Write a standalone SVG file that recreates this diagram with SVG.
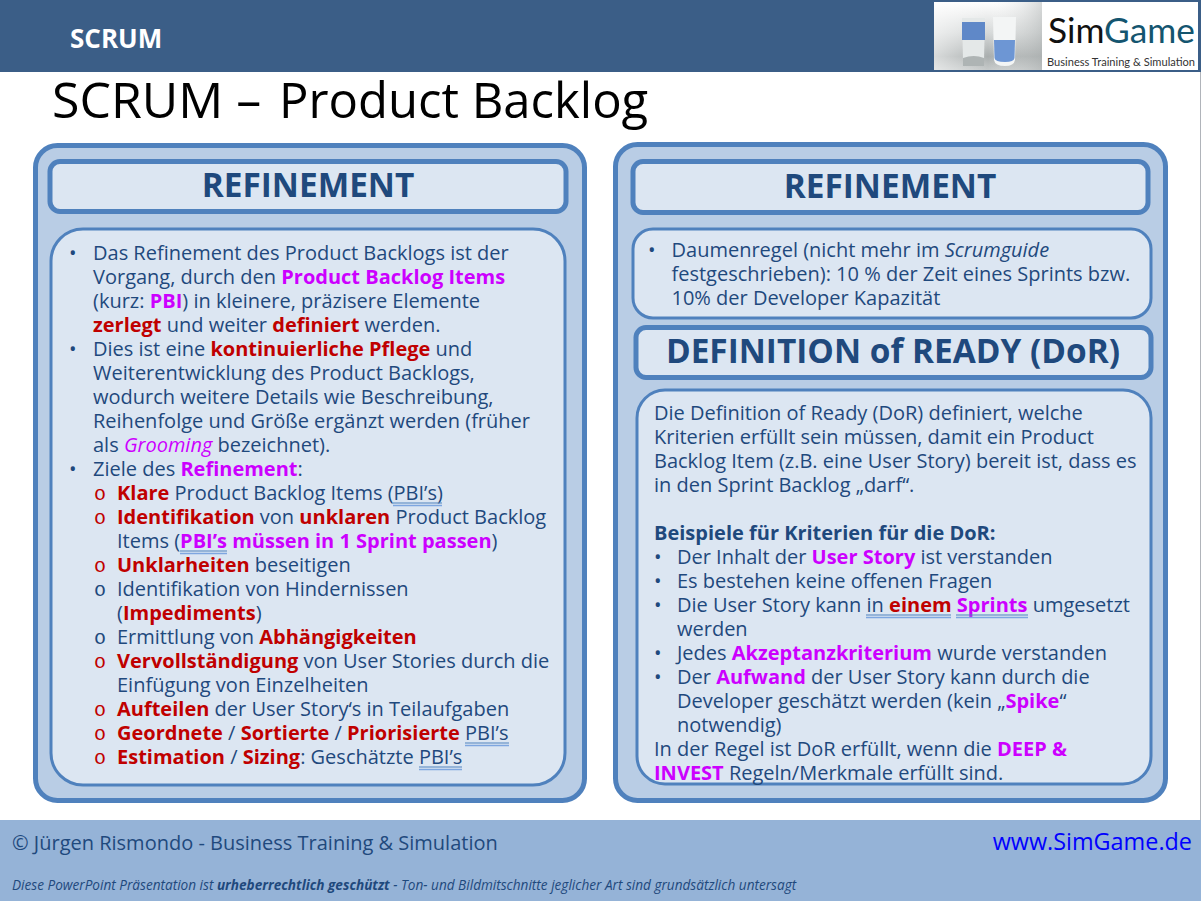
<svg xmlns="http://www.w3.org/2000/svg" width="1201" height="901" viewBox="0 0 1201 901">
<defs>
<linearGradient id="g1" x1="0" y1="0" x2="0" y2="1"><stop offset="0" stop-color="#ffffff"/><stop offset="0.45" stop-color="#d6d9d9"/><stop offset="0.8" stop-color="#a9aeae"/><stop offset="1" stop-color="#c6caca"/></linearGradient>
<linearGradient id="g2" x1="0" y1="0" x2="1" y2="0"><stop offset="0" stop-color="#ffffff" stop-opacity="0.55"/><stop offset="0.5" stop-color="#ffffff" stop-opacity="0"/><stop offset="1" stop-color="#b0b4b4" stop-opacity="0.5"/></linearGradient>
<filter id="soft" x="-10%" y="-10%" width="120%" height="120%"><feGaussianBlur stdDeviation="0.7"/></filter>
</defs>
<style>
text{font-family:"Open Sans","DejaVu Sans",sans-serif;fill:#1f497d;font-size:20px}
.outer{fill:#b9cde5;stroke:#4f81bd;stroke-width:5}
.inner{fill:#dce6f2;stroke:#4f81bd;stroke-width:3}
.head{fill:#dce6f2;stroke:#4f81bd;stroke-width:5}
.h{font-weight:700;font-size:33.400px;text-anchor:middle}
.r{fill:#c00000;font-weight:700}
.m{fill:#cc00ff;font-weight:700}
.i{font-style:italic}
.im{font-style:italic;fill:#cc00ff}
.b{font-weight:700}
.o{font-family:"Liberation Mono",monospace}
.red{fill:#c00000}
.u1{stroke:#4f81bd;stroke-width:1.200;fill:none}
.u2{stroke:#7ea6e0;stroke-width:1.400;fill:none}
</style>
<rect width="1201" height="901" fill="#ffffff"/>
<line x1="1200.500" y1="72" x2="1200.500" y2="820" stroke="#b0b4ba" stroke-width="1"/>
<g id="header">
<rect width="1201" height="72" fill="#3b5e87"/>
<text x="70" y="48" style="fill:#fff;font-weight:700;font-size:26px">SCRUM</text>
</g>
<g id="logo">
<rect x="934" y="2" width="264" height="68" fill="#ffffff"/>
<rect x="934" y="2" width="108" height="68" fill="url(#g1)"/>
<rect x="934" y="2" width="108" height="68" fill="url(#g2)"/>
<g filter="url(#soft)">
<path d="M962 18H985L984 60Q983 66 974 66Q964 66 963 60Z" fill="#e4e8e8"/>
<rect x="962" y="22" width="23" height="18" fill="#5f88c8"/>
<path d="M963 58Q974 54 984 58L984 66H963Z" fill="#aeb4b4"/>
<path d="M993 17H1016L1015 60Q1014 66 1005 66Q995 66 994 60Z" fill="#f3f5f5"/>
<path d="M994 40H1015L1014.500 58Q1014 62 1005 62Q995 62 994.500 58Z" fill="#6d96d4"/>
</g>
<text x="1048" y="43" style="fill:#111;font-size:34px;font-family:Lato,sans-serif" textLength="147" lengthAdjust="spacingAndGlyphs">Sim<tspan style="fill:#14556f;font-size:34px;font-family:Lato,sans-serif">Game</tspan></text>
<text x="1047" y="66" style="fill:#333;font-size:12px;font-family:Lato,sans-serif" textLength="148" lengthAdjust="spacingAndGlyphs">Business Training &amp; Simulation</text>
</g>
<g id="title"><text x="52" y="118" style="fill:#000;font-size:50px">SCRUM –<tspan x="279" style="font-size:49px;fill:#000">Product Backlog</tspan></text></g>

<g id="left-panel">
<rect class="outer" x="35.500" y="145.500" width="549" height="655" rx="22"/>
<g id="left-heading"><rect class="head" x="50" y="161.500" width="516" height="50" rx="10"/><text class="h" x="308" y="197">REFINEMENT</text></g>
<g id="left-body"><rect class="inner" x="51" y="229" width="514" height="556" rx="32"/>
<text x="69" y="260">•</text><text x="93" y="260">Das Refinement des Product Backlogs ist der</text>
<text x="93" y="284">Vorgang, durch den <tspan class="m">Product Backlog Items</tspan></text>
<text x="93" y="308">(kurz: <tspan class="m">PBI</tspan>) in kleinere, präzisere Elemente</text>
<text x="93" y="332"><tspan class="r">zerlegt</tspan> und weiter <tspan class="r">definiert</tspan> werden.</text>
<text x="69" y="356">•</text><text x="93" y="356">Dies ist eine <tspan class="r">kontinuierliche Pflege</tspan> und</text>
<text x="93" y="380">Weiterentwicklung des Product Backlogs,</text>
<text x="93" y="404">wodurch weitere Details wie Beschreibung,</text>
<text x="93" y="428">Reihenfolge und Größe ergänzt werden (früher</text>
<text x="93" y="452">als <tspan class="im">Grooming</tspan> bezeichnet).</text>
<text x="69" y="476">•</text><text x="93" y="476">Ziele des <tspan class="m">Refinement</tspan>:</text>
<text x="94" y="500" class="o red">o</text><text x="117" y="500"><tspan class="r">Klare</tspan> Product Backlog Items (PBI’s)</text>
<text x="94" y="524" class="o red">o</text><text x="117" y="524"><tspan class="r">Identifikation</tspan> von <tspan class="r">unklaren</tspan> Product Backlog</text>
<text x="117" y="548">Items (<tspan class="m">PBI’s müssen in 1 Sprint passen</tspan>)</text>
<text x="94" y="572" class="o red">o</text><text x="117" y="572"><tspan class="r">Unklarheiten</tspan> beseitigen</text>
<text x="94" y="596" class="o">o</text><text x="117" y="596">Identifikation von Hindernissen</text>
<text x="117" y="620">(<tspan class="r">Impediments</tspan>)</text>
<text x="94" y="644" class="o">o</text><text x="117" y="644">Ermittlung von <tspan class="r">Abhängigkeiten</tspan></text>
<text x="94" y="668" class="o red">o</text><text x="117" y="668"><tspan class="r">Vervollständigung</tspan> von User Stories durch die</text>
<text x="117" y="692">Einfügung von Einzelheiten</text>
<text x="94" y="716" class="o red">o</text><text x="117" y="716"><tspan class="r">Aufteilen</tspan> der User Story‘s in Teilaufgaben</text>
<text x="94" y="740" class="o red">o</text><text x="117" y="740"><tspan class="r">Geordnete</tspan> / <tspan class="r">Sortierte</tspan> / <tspan class="r">Priorisierte</tspan> PBI’s</text>
<text x="94" y="764" class="o red">o</text><text x="117" y="764"><tspan class="r">Estimation</tspan> / <tspan class="r">Sizing</tspan>: Geschätzte PBI’s</text>
<path class="u1" d="M393 503H442M180 551H227M465 743H509M419 767H462"/>
<path class="u2" d="M393 505.500H442M180 553.500H227M465 745.500H509M419 769.500H462"/>
</g>
</g>

<g id="right-panel">
<rect class="outer" x="615.500" y="144.500" width="550" height="656" rx="22"/>
<g id="right-heading"><rect class="head" x="633" y="161.500" width="515" height="51" rx="10"/><text class="h" x="890" y="198">REFINEMENT</text></g>
<g id="right-rule"><rect class="inner" x="633" y="229" width="518" height="89" rx="20"/>
<text x="648" y="257">•</text><text x="671.500" y="257">Daumenregel (nicht mehr im <tspan class="i">Scrumguide</tspan></text>
<text x="671.500" y="281">festgeschrieben): 10 % der Zeit eines Sprints bzw.</text>
<text x="671.500" y="305">10% der Developer Kapazität</text>
</g>
<g id="dor-heading"><rect class="head" x="636" y="327.500" width="515" height="50" rx="10"/><text class="h" x="893" y="363">DEFINITION of READY (DoR)</text></g>
<g id="dor-body"><rect class="inner" x="637" y="390" width="514" height="394" rx="28"/>
<text x="654" y="420">Die Definition of Ready (DoR) definiert, welche</text>
<text x="654" y="444">Kriterien erfüllt sein müssen, damit ein Product</text>
<text x="654" y="468">Backlog Item (z.B. eine User Story) bereit ist, dass es</text>
<text x="654" y="492">in den Sprint Backlog „darf“.</text>
<text x="654" y="540" class="b">Beispiele für Kriterien für die DoR:</text>
<text x="654" y="564">•</text><text x="677" y="564">Der Inhalt der <tspan class="m">User Story</tspan> ist verstanden</text>
<text x="654" y="588">•</text><text x="677" y="588">Es bestehen keine offenen Fragen</text>
<text x="654" y="612">•</text><text x="677" y="612">Die User Story kann in <tspan class="r">einem</tspan> <tspan class="m">Sprints</tspan> umgesetzt</text>
<text x="677" y="636">werden</text>
<text x="654" y="660">•</text><text x="677" y="660">Jedes <tspan class="m">Akzeptanzkriterium</tspan> wurde verstanden</text>
<text x="654" y="684">•</text><text x="677" y="684">Der <tspan class="m">Aufwand</tspan> der User Story kann durch die</text>
<text x="677" y="708">Developer geschätzt werden (kein „<tspan class="m">Spike</tspan>“</text>
<text x="677" y="732">notwendig)</text>
<text x="654" y="756">In der Regel ist DoR erfüllt, wenn die <tspan class="m">DEEP &amp;</tspan></text>
<text x="654" y="780"><tspan class="m">INVEST</tspan> Regeln/Merkmale erfüllt sind.</text>
<path class="u1" d="M866 615H951M956 615H1028"/>
<path class="u2" d="M866 617.500H951M956 617.500H1028"/>
</g>
</g>

<g id="footer">
<rect y="820" width="1201" height="81" fill="#95b3d7"/>
<text x="12" y="850">© Jürgen Rismondo - Business Training &amp; Simulation</text>
<text x="1192" y="850" text-anchor="end" style="fill:#0000ff;font-size:23.400px">www.SimGame.de</text>
<text x="12" y="890" class="i" style="font-size:13.600px">Diese PowerPoint Präsentation ist <tspan class="b">urheberrechtlich geschützt</tspan> - Ton- und Bildmitschnitte jeglicher Art sind grundsätzlich untersagt</text>
</g>
</svg>
